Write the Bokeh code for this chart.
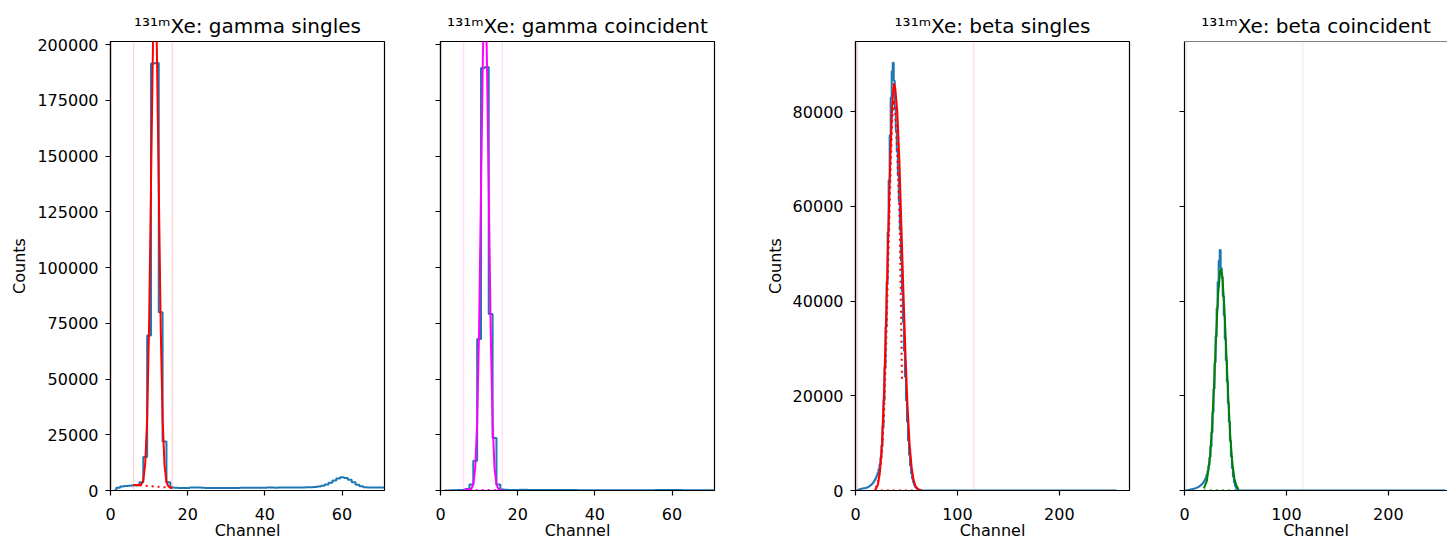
from bokeh.plotting import figure
from bokeh.layouts import row
from bokeh.models import Range1d, FixedTicker, Span, BasicTickFormatter
from bokeh.embed import file_html
from bokeh.resources import INLINE

FONT = "DejaVu Sans"
BLUE = "#1f77b4"

# ---------------- data ----------------
titles = ["¹³¹ᵐXe: gamma singles", "¹³¹ᵐXe: gamma coincident",
          "¹³¹ᵐXe: beta singles", "¹³¹ᵐXe: beta coincident"]

gamma_xticks = [0, 20, 40, 60]
gamma_yticks = [0, 25000, 50000, 75000, 100000, 125000, 150000, 175000, 200000]
beta_xticks = [0, 100, 200]
beta_yticks = [0, 20000, 40000, 60000, 80000]

gamma_channels = list(range(1, 72))
gamma_singles_counts = [
    100, 1200, 1800, 2000, 2100, 2300, 2400, 3700, 15000, 69500,
    191500, 191800, 80000, 22000, 3700, 1300, 1200, 1100, 1100, 1100,
    1300, 1400, 1300, 1200, 1100, 1100, 1100, 1100, 1100, 1100,
    1150, 1150, 1150, 1200, 1200, 1200, 1200, 1250, 1250, 1250,
    1300, 1300, 1250, 1300, 1300, 1350, 1350, 1350, 1400, 1400,
    1450, 1500, 1600, 1800, 2100, 2700, 3500, 4500, 5400, 5900,
    5600, 4800, 3700, 2600, 1900, 1500, 1400, 1400, 1350, 1300,
    1300]
gamma_coinc_counts = [
    0, 50, 100, 150, 200, 250, 700, 2700, 13400, 68000,
    189500, 190000, 79200, 23600, 2700, 500, 300, 250, 250, 250,
    300, 300, 250, 250, 250, 250, 200, 200, 200, 200,
    200, 250, 200, 200, 200, 150, 150, 150, 150, 150,
    150, 150, 150, 150, 150, 150, 150, 150, 150, 150,
    150, 150, 150, 150, 150, 200, 200, 200, 200, 200,
    200, 200, 150, 150, 150, 150, 150, 150, 150, 150,
    150]

gamma_fit_x = [6, 7, 8, 8.5, 9, 9.5, 10, 10.5, 11, 11.25, 11.5, 11.75, 12,
               12.5, 13, 13.5, 14, 14.5, 15, 15.5, 16]
gamma_singles_fit = [2500, 2380, 2730, 4670, 11950, 32350, 74700, 137800, 199550,
                     218900, 225800, 218800, 199400, 137550, 74300, 31800, 11300,
                     3900, 1820, 1340, 1200]
gamma_coinc_fit = [300, 300, 780, 2770, 10050, 30300, 72300, 135000, 196200,
                   215300, 222250, 215300, 196100, 134900, 72300, 30200, 9950,
                   2680, 690, 280, 200]
gamma_bg_x = [6, 16]
gamma_singles_bg = [2500, 1200]
gamma_coinc_bg = [300, 200]
gamma_roi = [6, 16]

beta_channels = list(range(0, 67)) + [256]
beta_singles_counts = [
    0, 0, 0, 150, 250, 300, 350, 400, 450, 500,
    550, 600, 700, 800, 950, 1100, 1300, 1550, 1850, 2200,
    2600, 3100, 3700, 4500, 5500, 7000, 9500, 13500, 19000, 26000,
    34500, 44000, 54500, 65500, 75000, 83000, 88500, 90300, 86500, 80500,
    76000, 71500, 66500, 61000, 55000, 48500, 42000, 35500, 29500, 24000,
    19000, 14500, 10500, 7500, 5200, 3600, 2500, 1700, 1100, 700,
    450, 300, 200, 100, 50, 0, 0, 0]
beta_coinc_counts = [
    0, 0, 0, 50, 100, 150, 200, 250, 300, 350,
    400, 500, 600, 700, 800, 950, 1100, 1300, 1550, 1850,
    2200, 2700, 3300, 4100, 5300, 7000, 9300, 12300, 16500, 21500,
    27000, 32500, 38500, 44000, 48500, 50800, 47000, 45000, 41000, 37000,
    32000, 27500, 23000, 18500, 14500, 10500, 7200, 4700, 2900, 1700,
    900, 450, 200, 80, 0, 0, 0, 0, 0, 0,
    0, 0, 0, 0, 0, 0, 0, 0]

beta_singles_fit_x = [19, 22, 24, 26, 28, 30, 32, 34, 36, 37.7, 39, 41, 43, 45,
                      47, 49, 51, 53, 55, 57, 59, 62, 65]
beta_singles_fit = [0, 1200, 4000, 10000, 21000, 36000, 53000, 69000, 81500, 86000,
                    85000, 80000, 70000, 56000, 42000, 29000, 18000, 10000, 5000,
                    2200, 850, 150, 0]
beta_comp_x = [20, 23, 26, 28, 30, 32, 34, 36, 37.5, 39, 41, 42.3, 43.3, 44.5, 45.6]
beta_comp_y = [600, 2500, 8000, 16000, 30000, 47000, 64000, 78000, 82500, 80000,
               71000, 63000, 57000, 40000, 23600]
beta_singles_bg_x = [19, 65]
beta_singles_bg = [0, 0]

beta_coinc_fit_x = [19, 22, 25, 27, 29, 31, 33, 35, 35.7, 37, 39, 41, 43, 45, 47,
                    49, 51, 53]
beta_coinc_fit = [450, 2100, 7100, 13400, 22300, 32500, 41500, 46400, 46800, 45500,
                  39100, 29400, 19400, 11200, 5700, 2500, 1000, 330]
beta_coinc_bg_x = [19, 53]
beta_coinc_bg = [0, 0]
beta_roi = [2, 116]


# ---------------- figures ----------------
def make_panel(title, width, left, right, x_end, y_end, xticks, yticks,
               show_ylabels, title_offset=0, outline=True):
    p = figure(width=width, height=542,
               x_range=Range1d(0, x_end), y_range=Range1d(0, y_end),
               output_backend="svg", toolbar_location=None,
               min_border_left=left, min_border_right=right,
               min_border_top=41, min_border_bottom=52)
    p.background_fill_color = "white"
    p.border_fill_color = "white"
    p.grid.visible = False
    p.outline_line_color = "black" if outline else None
    p.outline_line_width = 1.2
    p.title.text = title
    p.title.text_font = FONT
    p.title.text_font_size = "20px"
    p.title.text_font_style = "normal"
    p.title.text_color = "black"
    p.title.align = "center"
    p.title.standoff = 8
    p.title.offset = title_offset
    xa, ya = p.xaxis[0], p.yaxis[0]
    for ax in (xa, ya):
        ax.axis_line_color = "black"
        ax.axis_line_width = 1.2
        ax.major_tick_line_color = "black"
        ax.major_tick_line_width = 1.2
        ax.major_tick_out = 5
        ax.major_tick_in = 0
        ax.minor_tick_out = 0
        ax.minor_tick_in = 0
        ax.major_label_text_font = FONT
        ax.major_label_text_font_size = "16px"
        ax.major_label_text_color = "black"
        ax.axis_label_text_font = FONT
        ax.axis_label_text_font_size = "16px"
        ax.axis_label_text_font_style = "normal"
        ax.axis_label_text_color = "black"
    xa.ticker = FixedTicker(ticks=xticks)
    ya.ticker = FixedTicker(ticks=yticks)
    ya.formatter = BasicTickFormatter(use_scientific=False)
    xa.axis_label = "Channel"
    xa.major_label_standoff = 12
    xa.axis_label_standoff = -2
    ya.major_label_standoff = 7
    if show_ylabels:
        ya.axis_label = "Counts"
        ya.axis_label_standoff = 5
    else:
        ya.major_label_overrides = {t: "" for t in yticks}
    if not outline:
        p.add_layout(Span(location=y_end, dimension="width",
                          line_color="black", line_width=1.2))
    return p


def add_roi(p, roi, color, alpha):
    for loc in roi:
        p.add_layout(Span(location=loc, dimension="height",
                          line_color=color, line_alpha=alpha, line_width=1.2))


GAMMA_YMAX = 201400
BETA_YMAX = 94800
BETA_XMAX = 268.8

p1 = make_panel(titles[0], 413, 110, 29, 71, GAMMA_YMAX, gamma_xticks, gamma_yticks, True)
add_roi(p1, gamma_roi, "red", 0.18)
p1.step(gamma_channels, gamma_singles_counts, mode="center", line_color=BLUE, line_width=2)
p1.line(gamma_fit_x, gamma_singles_fit, line_color="red", line_width=2)
p1.line(gamma_bg_x, gamma_singles_bg, line_color="red", line_width=2, line_dash="2 4")

p2 = make_panel(titles[1], 327, 27, 26, 71, GAMMA_YMAX, gamma_xticks, gamma_yticks, False)
add_roi(p2, gamma_roi, "magenta", 0.15)
p2.step(gamma_channels, gamma_coinc_counts, mode="center", line_color=BLUE, line_width=2)
p2.line(gamma_fit_x, gamma_coinc_fit, line_color="magenta", line_width=2)
p2.line(gamma_bg_x, gamma_coinc_bg, line_color="magenta", line_width=2, line_dash="2 4")

p3 = make_panel(titles[2], 416, 115, 27, BETA_XMAX, BETA_YMAX, beta_xticks, beta_yticks, True)
add_roi(p3, beta_roi, "red", 0.15)
p3.step(beta_channels, beta_singles_counts, mode="center", line_color=BLUE, line_width=2)
p3.line(beta_singles_fit_x, beta_singles_fit, line_color="red", line_width=2)
p3.line(beta_comp_x, beta_comp_y, line_color="red", line_width=2, line_dash="2 4")
p3.line(beta_singles_bg_x, beta_singles_bg, line_color="red", line_width=2, line_dash="2 4")

p4 = make_panel(titles[3], 291, 28, 0, BETA_XMAX * 263 / 274, BETA_YMAX, beta_xticks,
                beta_yticks, False, title_offset=6, outline=False)
add_roi(p4, beta_roi, "green", 0.1)
p4.step(beta_channels, beta_coinc_counts, mode="center", line_color=BLUE, line_width=2)
p4.line(beta_coinc_fit_x, beta_coinc_fit, line_color="green", line_width=2)
p4.line(beta_coinc_bg_x, beta_coinc_bg, line_color="green", line_width=2, line_dash="2 4")

layout = row(p1, p2, p3, p4)

open("out.html", "w").write(file_html(layout, INLINE))
